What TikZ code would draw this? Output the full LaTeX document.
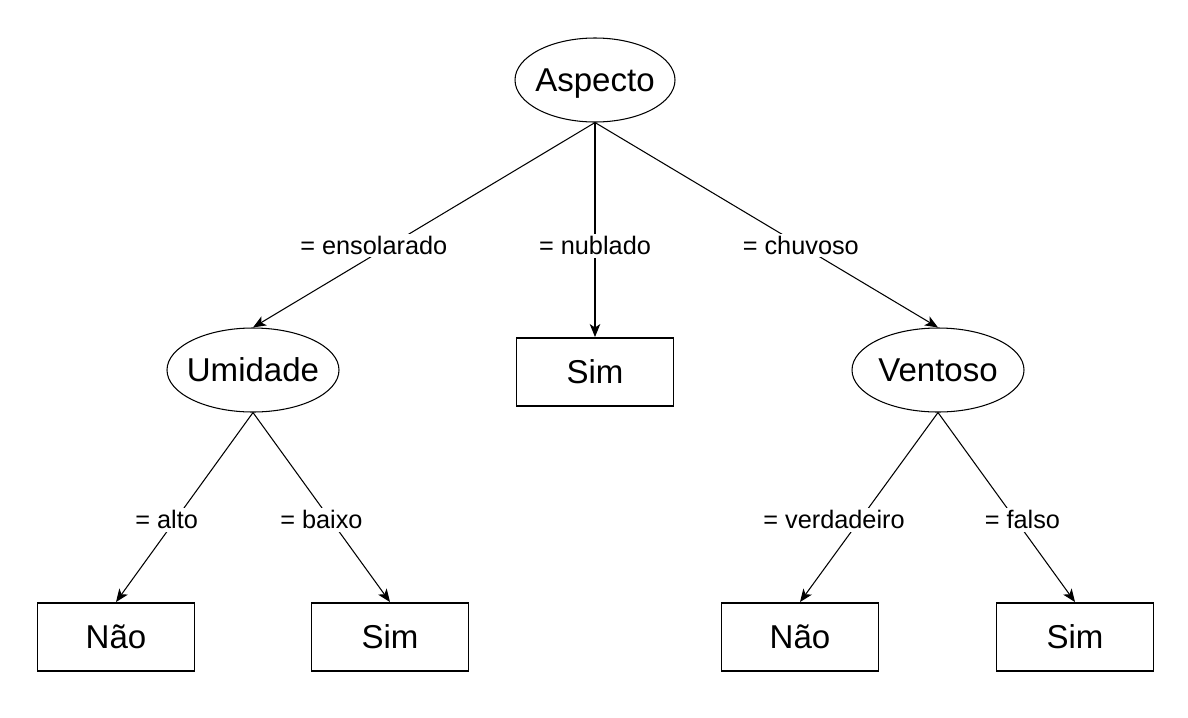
\documentclass[tikz,border=0pt]{standalone}
\usepackage{fontspec}
\setmainfont{Liberation Sans}
\usetikzlibrary{positioning, shapes.geometric, arrows.meta}

\begin{document}
\begin{tikzpicture}[
  attr/.style={draw, ellipse, line width=0.6pt, inner xsep=-0.12cm, inner ysep=0pt,
               minimum width=3.2cm, minimum height=1.68cm, text depth=0pt,
               font=\fontsize{18.8}{22}\selectfont},
  leaf/.style={draw, rectangle, line width=1.1pt, minimum width=3.14cm,
               minimum height=1.36cm, font=\fontsize{18.8}{22}\selectfont},
  branch/.style={-{Stealth[length=2.6mm, width=2.1mm, inset=0.7mm]}, line width=0.6pt},
  cond/.style={fill=white, inner sep=1.5pt, font=\fontsize{14.4}{17}\selectfont},
]
\useasboundingbox (0,0) rectangle (23.76,-14.34);

\node[attr] (aspecto) at (11.9,-1.6) {Aspecto};

\node[attr, minimum width=3.44cm] (umidade) at (5.06,-7.4) {Umidade};
\node[leaf] (simMeio) at (11.9,-7.44) {Sim};
\node[attr, minimum width=3.44cm] (ventoso) at (18.76,-7.4) {Ventoso};

\node[leaf] (naoUmid) at (2.32,-12.74) {Não};
\node[leaf] (simUmid) at (7.8,-12.74) {Sim};
\node[leaf] (naoVent) at (16.0,-12.74) {Não};
\node[leaf] (simVent) at (21.5,-12.74) {Sim};

\draw[branch] (aspecto.south) -- node[cond, pos=0.6, xshift=-0.32cm] {= ensolarado} (umidade.north);
\draw[branch] (aspecto.south) -- node[cond, pos=0.574] {= nublado} (simMeio.north);
\draw[branch] (aspecto.south) -- node[cond, pos=0.6] {= chuvoso} (ventoso.north);
\draw[branch] (umidade.south) -- node[cond, pos=0.565, xshift=-0.18cm] {= alto} (naoUmid.north);
\draw[branch] (umidade.south) -- node[cond, pos=0.565, xshift=-0.18cm] {= baixo} (simUmid.north);
\draw[branch] (ventoso.south) -- node[cond, pos=0.565, xshift=-0.52cm] {= verdadeiro} (naoVent.north);
\draw[branch] (ventoso.south) -- node[cond, pos=0.565, xshift=0.14cm] {= falso} (simVent.north);

\end{tikzpicture}
\end{document}
